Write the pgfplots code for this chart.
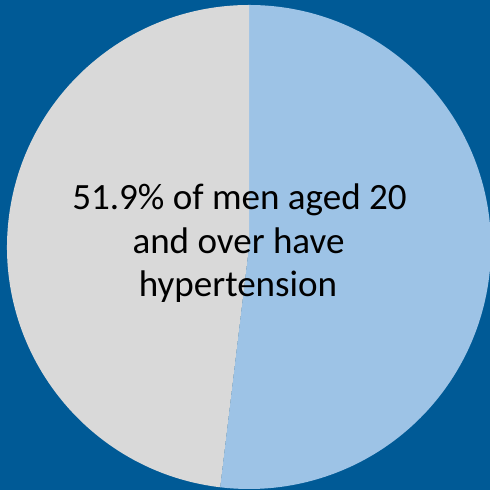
\documentclass[border=0pt]{standalone}
\usepackage{fontspec}
\setmainfont{Carlito}
\usepackage{pgfplots}
\usepackage{pgfplotstable}
\pgfplotsset{compat=1.18}

\definecolor{bgblue}{RGB}{0,90,150}
\definecolor{sliceblue}{RGB}{157,195,230}
\definecolor{slicegray}{RGB}{217,217,217}

% Share of men aged 20 and over (percent)
\pgfplotstableread{
group value
hypertension 51.9
other 48.1
}\sharetable

\begin{document}
\begin{tikzpicture}
\pgfplotstablegetelem{0}{value}\of\sharetable
\let\hypshare\pgfplotsretval
\begin{axis}[
  width=490bp, height=490bp, scale only axis,
  xmin=0, xmax=490, ymin=0, ymax=490,
  axis lines=none, ticks=none, clip=false,
]
\fill[bgblue] (axis cs:0,0) rectangle (axis cs:490,490);
\pgfmathsetmacro\splitangle{90-3.6*\hypshare}
% hypertension slice, clockwise from 12 o'clock
\fill[sliceblue] (axis cs:249,243) -- ++(90:242bp)
  arc[start angle=90, end angle=\splitangle, radius=242bp] -- cycle;
% remaining share
\fill[slicegray] (axis cs:249,243) -- ++(\splitangle:242bp)
  arc[start angle=\splitangle, end angle=-270, radius=242bp] -- cycle;
\begin{scope}[every node/.style={anchor=base, inner sep=0pt,
    font=\fontsize{37.2}{44}\selectfont, text=black}]
  \node at (axis cs:239.5,280) {51.9\% of men aged 20};
  \node at (axis cs:238.5,236) {and over have};
  \node at (axis cs:238,193) {hypertension};
\end{scope}
\end{axis}
\pgfresetboundingbox
\path[use as bounding box] (current axis.south west) rectangle (current axis.north east);
\end{tikzpicture}
\end{document}
